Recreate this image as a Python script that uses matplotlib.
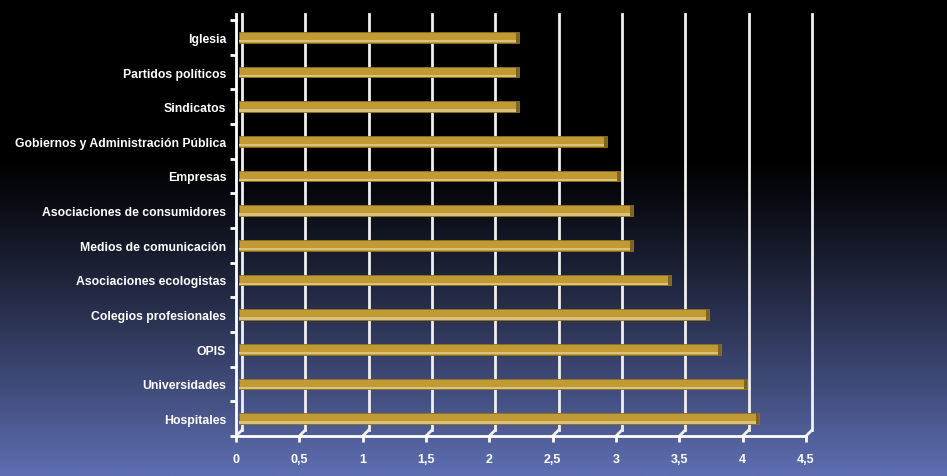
import numpy as np
import matplotlib
matplotlib.use("Agg")
import matplotlib.pyplot as plt

plt.rcParams['font.family'] = ['Liberation Sans', 'DejaVu Sans']

categorias = ["Iglesia", "Partidos políticos", "Sindicatos",
              "Gobiernos y Administración Pública", "Empresas",
              "Asociaciones de consumidores", "Medios de comunicación",
              "Asociaciones ecologistas", "Colegios profesionales", "OPIS",
              "Universidades", "Hospitales"]
valores = [2.2, 2.2, 2.2, 2.9, 3.0, 3.1, 3.1, 3.4, 3.7, 3.8, 4.0, 4.1]
xticks = [0, 0.5, 1, 1.5, 2, 2.5, 3, 3.5, 4, 4.5]
xlabels = ["0", "0,5", "1", "1,5", "2", "2,5", "3", "3,5", "4", "4,5"]

W, H = 947, 477
fig = plt.figure(figsize=(W / 100, H / 100), dpi=100)

# fondo degradado negro -> azul
bg = fig.add_axes([0, 0, 1, 1], zorder=-5)
t = np.linspace(0, 1, 400)[:, None]
k = np.clip((t - 0.33) / 0.67, 0, 1) ** 1.15
bottom = np.array([94, 110, 178]) / 255
img = k[:, :, None] * bottom[None, None, :] * np.ones((1, 2, 1))
bg.imshow(img, aspect="auto", extent=[0, 1, 0, 1], origin="upper")
bg.axis("off")

# ejes frontales
x0, x1, ytop, ybot = 236, 806, 21, 437
ax = fig.add_axes([x0 / W, (H - ybot) / H, (x1 - x0) / W, (ybot - ytop) / H])
ax.set_facecolor("none")
ax.set_xlim(0, 4.5)
ax.set_ylim(len(categorias) - 0.5, -0.5)

# desplazamiento de la pared trasera (6 px) en unidades de datos
px = 4.5 / (x1 - x0)
py = len(categorias) / (ybot - ytop)
dx, dy = 6 * px, 6 * py

ypos = np.arange(len(categorias))
n = len(categorias)
for xv in xticks:
    ax.plot([xv + dx, xv + dx], [-0.5 - dy, n - 0.5 - dy],
            color="#f0f0f0", lw=2, clip_on=False, zorder=1)
    ax.plot([xv, xv + dx], [n - 0.5, n - 0.5 - dy],
            color="#f0f0f0", lw=2, clip_on=False, zorder=1)
ax.plot([0, 0], [-0.5, -0.5 - dy], color="white", lw=2, clip_on=False)

# barras con efecto 3D (a media profundidad: +4 px)
h = 0.31
shift = 4 * px
left = 3 * px
ends = np.array(valores) + shift
ax.barh(ypos, ends - left, left=left, height=h, color="#c29a34",
        edgecolor="#8c7022", lw=0.6, zorder=3, clip_on=False)
ax.barh(ypos + h * 0.36, ends - left, left=left, height=h * 0.22,
        color="#d9c27c", lw=0, zorder=3.5, clip_on=False)
cap = 3 * px
ax.barh(ypos, [cap] * n, left=ends - cap, height=h,
        color="#7d6420", lw=0, zorder=4, clip_on=False)

for s in ["top", "right"]:
    ax.spines[s].set_visible(False)
for s in ["left", "bottom"]:
    ax.spines[s].set_color("white")
    ax.spines[s].set_linewidth(2)

ax.set_xticks(xticks)
ax.set_xticklabels(xlabels)
ax.set_yticks(ypos)
ax.set_yticklabels(categorias)
ax.set_yticks(np.arange(-0.5, n), minor=True)
ax.tick_params(axis="x", colors="white", length=4, width=2, pad=8,
               labelsize=9)
ax.tick_params(axis="y", which="major", length=0, pad=7, colors="white",
               labelsize=8.8)
ax.tick_params(axis="y", which="minor", length=4, width=2, color="white")
for lab in ax.get_xticklabels() + ax.get_yticklabels():
    lab.set_fontweight("bold")

fig.savefig("out.png", dpi=100, facecolor="black")
